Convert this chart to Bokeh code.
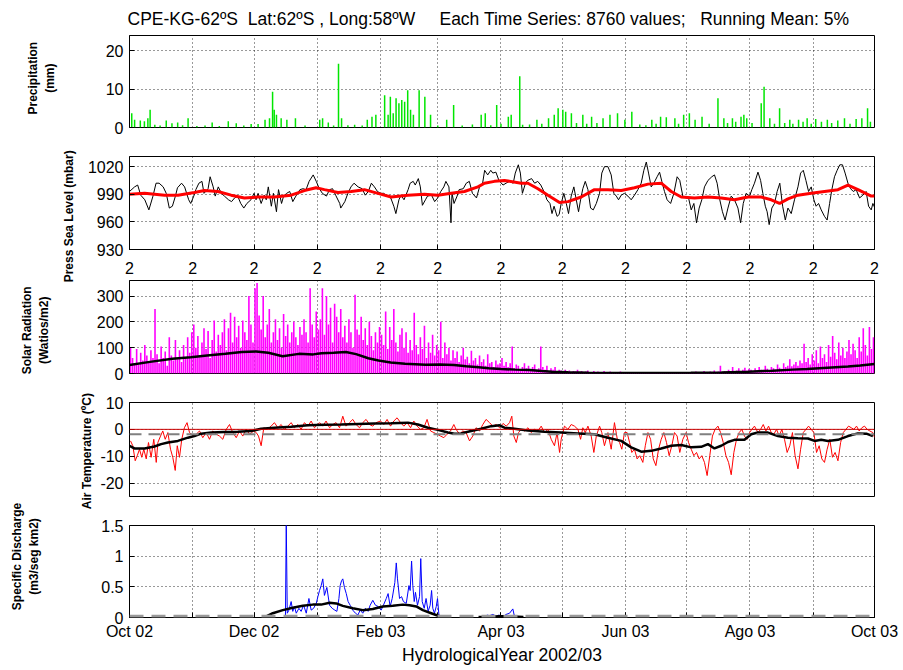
from bokeh.plotting import figure
from bokeh.layouts import column
from bokeh.models import FixedTicker, Span, Range1d
from bokeh.embed import file_html
from bokeh.resources import INLINE

FONT = "Liberation Sans"
W = 899
FRAME_LEFT = 129
FRAME_RIGHT = 25
NB = "\u00a0"
TITLE = ("CPE-KG-62ºS " + NB + "Lat:62ºS , Long:58ºW " + NB * 4 + "Each Time Series: 8760 values; "
         + NB * 2 + "Running Mean: 5%")

# x axis: days since 1 Oct 2002
MONTH_DAYS = [0, 31, 61, 92, 123, 151, 182, 212, 243, 273, 304, 335, 365]
LABEL_DAYS = [0, 61, 123, 182, 243, 304, 365]
LABELS = ["Oct 02", "Dec 02", "Feb 03", "Apr 03", "Jun 03", "Ago 03", "Oct 03"]

# ---------------- Precipitation (mm) ----------------
PR_DAYS = [1.1, 2.5, 5.3, 7.3, 9.0, 10.1, 12.4, 15, 18.0, 20.8, 23.6, 26, 28.7, 33, 37, 40.5, 44, 48.4, 52.3, 56,
           59.6, 63.0, 66.4, 68.6, 70.1, 70.9, 72.0, 74.3, 77.1, 81.3, 86, 93.2, 94.6, 97.4, 100, 102.4, 103.9, 107,
           110.3, 114, 116.5, 118.8, 120.7, 125.0, 126.7, 127.8, 129.2, 130.6, 132.0, 133.4, 134.8, 136.3, 137.7,
           139.1, 141.9, 144.7, 147.5, 151, 155.4, 158.8, 163, 168, 172.3, 174.3, 177, 179.9, 182, 185.6, 187.0,
           191.2, 192.6, 196, 199.6, 202, 205.3, 208.1, 210.0, 212.3, 213.7, 216.5, 219, 222.1, 224, 226.4, 229,
           232.0, 235.4, 239.1, 242.7, 246.1, 250, 253, 255.9, 258, 260.2, 263.0, 267.2, 269, 271.5, 274.3, 277.1,
           280.5, 284, 288.3, 291.2, 293, 295.4, 297, 299.6, 301.0, 302.4, 305, 309.5, 310.9, 313.7, 316, 318.5,
           321, 323.5, 325, 327.8, 330, 332.0, 334, 336.2, 339, 341.9, 344, 347, 350.3, 353, 356.0, 358.8, 361.6, 363]
PR_MM = [3.7, 2.0, 1.8, 1.6, 2.4, 4.6, 0.7, 0.5, 1.8, 1.1, 1.3, 0.6, 2.4, 0.4, 0.5, 1.3, 0.4, 1.6, 1.1, 0.5,
         0.9, 0.9, 2.0, 2.4, 9.3, 4.6, 3.3, 2.4, 2.0, 2.4, 0.5, 2.0, 2.4, 1.3, 0.5, 16.6, 2.4, 0.6, 0.7, 0.5,
         2.0, 2.8, 3.3, 8.4, 3.3, 8.0, 3.7, 7.6, 6.3, 7.2, 6.7, 9.7, 4.6, 3.3, 9.7, 8.0, 3.3, 0.5, 2.0, 5.9,
         0.5, 0.8, 3.3, 3.7, 0.6, 5.9, 1.0, 2.8, 3.3, 13.4, 0.7, 0.8, 2.0, 1.0, 2.4, 3.3, 5.0, 4.6, 4.1, 3.7,
         1.2, 3.3, 1.0, 2.8, 1.2, 2.4, 3.3, 3.7, 2.0, 4.1, 0.8, 0.6, 2.0, 1.0, 2.8, 2.7, 2.4, 1.0, 3.3, 3.7,
         2.0, 2.8, 1.0, 7.6, 2.4, 1.2, 2.4, 1.5, 2.8, 3.3, 2.4, 1.2, 6.3, 10.6, 2.4, 1.0, 5.0, 1.2, 2.0, 1.0,
         2.0, 1.5, 2.4, 1.0, 2.2, 1.5, 2.0, 1.2, 1.8, 2.4, 1.0, 2.2, 2.4, 5.0, 1.5]

# ---------------- Sea level pressure (mbar) ----------------
P_DAYS = [0, 2.5, 4, 5.5, 7.5, 9.5, 11.5, 13, 14.5, 16.5, 18, 19.5, 21, 22.5, 23.5, 25.5, 27, 29, 30, 31.5,
          32.5, 34, 35.5, 36.5, 38.5, 39.5, 41, 42, 43.5, 45, 46.5, 48.5, 50, 51.5, 53, 54.5, 56, 57.5, 59.5, 61,
          62, 63, 64.5, 66, 67, 68, 69.5, 70.5, 72, 73, 74.5, 75.5, 77, 78.5, 80, 81.5, 83.5, 85, 86.5, 88, 90, 91.5,
          93, 94.5, 96.5, 98, 99.5, 101, 103, 103.5, 105.5, 107, 108.5, 110, 112, 114, 115.5, 117, 118.5, 120, 121.5, 123,
          124.5, 126.5, 128, 129.5, 130.5, 132, 133, 134.5, 136.5, 137.5, 139, 140, 141.5, 142.5, 143.5, 145, 146, 148, 149.5, 151,
          152.5, 154, 155, 156.5, 157.5, 158, 159, 160.5, 161.5, 163.5, 165, 166.5, 168, 170, 171.5, 173, 174, 175.5, 177, 178, 179.5, 181,
          183, 184.5, 186, 188, 189, 190.5, 191.5, 192.5, 194, 195, 197, 198.5, 200, 201.5, 203.5, 204.5, 206, 207, 208, 209.5, 210.5, 211.5,
          212.8, 214, 215.1, 216.4, 217.7, 218.9, 220, 221, 222.1, 223.3, 224.6, 225.9, 227.2, 228.7, 230.3, 231.4, 232.7, 234.4, 236, 237.3, 238.5, 239.6, 240.9, 242.5,
          244.2, 245.8, 247.4, 249.1, 250.7, 252, 253.2, 254.3, 255.6, 256.9, 258.5, 259.7, 260.8, 262.1, 263.4, 265.1, 266.7, 268.3, 269.6, 271.1, 272.7,
          273.9, 275.2, 276.5, 277.8, 279.1, 280.4, 281.7, 283.4, 285.3, 286.6, 287.9, 289.2, 290.5, 291.8, 293.2, 294.8, 296.4, 298.1, 299.4, 300.7, 302.1, 303.8,
          304.9, 306.2, 307.9, 309.2, 310.3, 311.5, 312.4, 313.4, 314.7, 316, 317.3, 318.6, 320, 321.3, 322.6, 324.2, 325.8, 327.5, 328.8, 330.1, 331.4, 332.7, 334,
          335.3, 336.4, 337.6, 338.9, 340.5, 341.8, 343, 344.1, 345.4, 346.7, 348, 349.3, 350.6, 352, 353.3, 354.6, 356, 357.7, 359.3, 360.9, 362.1, 363.4, 364.2, 365]
P_MBAR = [993, 998, 1000, 989, 984, 973, 988, 1002, 1002, 998, 991, 975, 977, 988, 997, 1002, 998, 984, 980, 988,
          995, 1002, 1004, 991, 996, 1009, 998, 988, 998, 991, 988, 984, 982, 986, 988, 980, 975, 980, 984, 991,
          984, 991, 980, 989, 984, 998, 977, 991, 971, 995, 980, 988, 991, 993, 982, 988, 995, 996, 995, 1004, 1011, 1004,
          996, 991, 988, 995, 996, 989, 980, 975, 982, 991, 998, 1002, 998, 996, 989, 993, 1002, 998, 993, 991,
          991, 988, 986, 977, 969, 984, 989, 984, 995, 1002, 1004, 1000, 1007, 998, 978, 984, 988, 989, 982, 986,
          993, 998, 1004, 998, 959, 991, 980, 988, 995, 996, 1002, 1004, 991, 986, 998, 1002, 1016, 1011, 1016, 1013, 1014, 1005,
          1000, 1002, 1004, 1002, 1013, 1022, 1013, 991, 1002, 1005, 1007, 1002, 1004, 1000, 991, 984, 980, 969, 977, 966, 968, 980,
          991, 980, 969, 988, 998, 984, 971, 984, 996, 1004, 995, 975, 973, 980, 991, 1013, 1020, 1020, 1011, 991, 988, 984, 989, 991,
          988, 984, 989, 995, 1002, 1016, 1025, 1013, 998, 1002, 1009, 1014, 1004, 993, 984, 980, 991, 1009, 1005, 988, 986,
          986, 973, 980, 959, 975, 984, 998, 1005, 1009, 1011, 1002, 984, 971, 962, 975, 988, 984, 975, 959, 980, 991, 988,
          995, 1002, 1014, 1005, 991, 977, 971, 957, 975, 980, 993, 1002, 977, 962, 975, 969, 984, 998, 1013, 1016, 1005, 993, 998,
          984, 977, 980, 973, 966, 962, 980, 995, 1009, 1016, 1022, 1022, 1013, 1002, 996, 993, 995, 986, 989, 993, 977, 973, 980, 976]
PM_DAYS = [0, 7.4, 17.2, 23.7, 31.8, 36.7, 43.3, 49.8, 56.3, 62.9, 71.0, 79.2, 85.7, 91.4, 95.5, 102.1, 108.6, 115.1,
           121.7, 128.2, 136.4, 144.5, 151.1, 157.6, 164.1, 170.7, 173.9, 178.8, 183.7, 191.9, 195.2, 200.1, 205.0,
           210.7, 214.8, 221.3, 227.8, 234.4, 240.9, 247.4, 254.0, 260.5, 265.4, 270.3, 276.8, 283.4, 289.9, 296.4,
           303.0, 309.5, 314.4, 318.5, 322.6, 327.5, 334.0, 340.5, 347.1, 352.0, 356.9, 363.4, 365]
PM_MBAR = [990, 991, 989, 989, 992, 994, 993, 989, 986, 987, 987, 989, 994, 997, 995, 992, 993, 995, 991, 987,
           989, 990, 989, 991, 993, 998, 1002, 1004, 1005, 1002, 1002, 996, 989, 981, 982, 987, 995, 995, 994, 997,
           1001, 1002, 993, 987, 986, 987, 986, 984, 987, 987, 984, 980, 985, 989, 991, 993, 995, 1000, 995, 988, 988]

# ---------------- Solar radiation (W/m2): daily peaks, Oct..Sep ----------------
SR_OCT = [100, 60, 40, 95, 35, 80, 50, 110, 70, 45, 90, 60, 250, 75, 40, 105, 60, 85, 30, 140, 70, 50, 130, 55, 90, 45, 110, 60, 140, 80, 160]
SR_NOV = [190, 100, 145, 70, 120, 175, 95, 165, 60, 130, 205, 85, 150, 110, 160, 210, 90, 175, 235, 120, 220, 140, 185, 100, 205, 160, 130, 300, 190, 120]
SR_DEC = [330, 350, 225, 170, 300, 140, 190, 250, 120, 160, 210, 130, 175, 100, 230, 145, 190, 120, 160, 200, 140, 110, 180, 150, 210, 160, 120, 330, 190, 140, 240]
SR_JAN = [170, 210, 330, 150, 300, 190, 255, 120, 270, 220, 160, 250, 140, 185, 120, 210, 160, 100, 305, 170, 150, 220, 130, 175, 110, 200, 145, 90, 160, 120, 180]
SR_FEB = [150, 110, 240, 95, 180, 130, 250, 120, 85, 150, 175, 100, 160, 80, 130, 90, 235, 110, 75, 140, 95, 185, 60, 120, 80, 150, 70, 110]
SR_MAR = [90, 200, 60, 120, 75, 100, 50, 90, 60, 85, 45, 70, 100, 55, 65, 40, 88, 50, 60, 35, 70, 45, 55, 30, 75, 40, 45, 25, 50, 35, 40]
SR_APR = [60, 30, 45, 25, 40, 105, 20, 35, 30, 15, 25, 40, 20, 30, 15, 25, 35, 15, 20, 105, 25, 15, 30, 10, 20, 15, 25, 10, 15, 12]
SR_MAY = [10, 15, 8, 12, 5, 10, 8, 15, 6, 10, 5, 8, 12, 5, 6, 10, 4, 8, 5, 6, 10, 4, 5, 8, 3, 6, 4, 5, 8, 3, 4]
SR_JUN = [3, 5, 2, 4, 3, 6, 2, 3, 4, 2, 5, 3, 2, 4, 3, 2, 5, 3, 2, 4, 3, 2, 3, 5, 2, 3, 4, 2, 3, 4]
SR_JUL = [4, 6, 3, 5, 8, 4, 6, 3, 10, 5, 4, 8, 6, 12, 5, 8, 30, 6, 10, 8, 15, 10, 25, 8, 12, 20, 10, 15, 22, 12, 18]
SR_AUG = [15, 10, 20, 12, 25, 15, 10, 30, 18, 12, 25, 20, 15, 35, 22, 18, 40, 25, 30, 55, 28, 35, 45, 30, 50, 40, 115, 45, 60, 35, 75]
SR_SEP = [50, 90, 40, 105, 60, 75, 45, 110, 65, 145, 80, 55, 120, 70, 100, 60, 85, 130, 75, 115, 90, 60, 140, 85, 175, 110, 70, 180, 95, 140]
SM_DAYS = [0, 10, 21, 30, 38, 47, 55, 62, 68, 75, 83, 90, 94, 100, 106, 111, 117, 122, 128, 135, 145, 152, 159, 165,
           171, 176, 182, 189, 196, 202, 207, 215, 225, 250, 275, 290, 303, 315, 325, 332, 340, 346, 352, 358, 365]
SM_WM2 = [33, 45, 57, 63, 70, 76, 83, 85, 80, 67, 76, 74, 78, 80, 83, 75, 59, 50, 43, 38, 34, 35, 33, 28,
          24, 20, 17, 15, 14, 10, 7, 5, 3, 2, 3, 4, 7, 11, 15, 17, 21, 24, 27, 31, 37]

# ---------------- Air temperature (C) ----------------
T_DAYS = [0.5, 1.6, 2.8, 3.8, 4.9, 6.0, 7.0, 8.2, 9.3, 10.6, 11.9, 13.1, 13.9, 15.2, 16.3, 17.5, 18.8, 20.1, 21.2, 22.4, 23.4, 24.5, 25.6, 26.9, 28.2, 29.4, 31.4,
          32.7, 34.3, 35.9, 37.6, 39.2, 40.8, 42.5, 44.1, 45.7, 47.4, 49.0, 50.6, 52.3, 53.9, 55.5, 57.2, 58.8, 59.9, 60.9,
          62.1, 63.2, 64.5, 65.8, 67.4, 69.4, 71.0, 72.7, 74.3, 75.9, 77.6, 79.2, 80.8, 82.5, 84.1, 85.7, 87.4, 89.0, 90.6, 91.4,
          93.1, 94.7, 96.3, 98.0, 99.6, 101.2, 102.9, 104.5, 106.1, 107.8, 109.4, 111.0, 112.7, 114.3, 115.9, 117.6, 119.2, 120.8, 123.0,
          124.6, 126.2, 127.9, 129.5, 131.1, 132.8, 134.4, 136.0, 137.7, 139.3, 140.9, 142.6, 144.2, 145.8, 147.5, 149.1, 150.7,
          152.4, 154.0, 155.6, 157.3, 158.9, 160.0, 161.7, 163.3, 164.9, 166.6, 168.2, 169.8, 171.5, 173.1, 174.7, 176.4, 178.0, 179.6, 181.3,
          183.0, 184.6, 186.2, 187.3, 188.3, 189.5, 190.6, 191.9, 193.6, 195.2, 196.8, 198.4, 200.1, 201.7, 203.3, 205.0, 206.6, 208.2, 209.5, 210.7, 211.5,
          213.1, 214.8, 216.4, 218.0, 219.7, 221.0, 222.1, 223.3, 224.6, 226.2, 227.5, 228.7, 230.3, 231.4, 232.7, 234.4, 236.0, 237.6, 239.0, 240.1, 241.2, 242.5,
          243.8, 245.0, 246.1, 247.4, 248.7, 250.0, 251.5, 252.7, 254.0, 255.3, 256.6, 257.9, 259.2, 260.5, 261.8, 263.1, 264.4, 265.7, 267.0, 268.3, 269.6, 271.1, 272.7,
          273.9, 275.2, 276.5, 277.8, 279.1, 280.4, 281.7, 283.0, 284.3, 285.6, 286.9, 288.3, 289.6, 290.9, 292.2, 293.5, 294.8, 296.1, 297.4, 298.7, 300.0, 301.3, 302.6, 303.8,
          304.9, 306.2, 307.9, 309.2, 310.5, 311.8, 313.1, 314.4, 315.7, 317.0, 318.3, 319.6, 320.9, 322.2, 323.5, 324.8, 326.1, 327.5, 328.8, 330.1, 331.4, 332.7, 334.0,
          335.3, 336.6, 337.9, 339.2, 340.5, 341.8, 343.1, 344.4, 345.7, 347.1, 348.4, 349.7, 351.0, 352.3, 353.6, 354.9, 356.2, 357.5, 358.8, 360.1, 361.4, 362.7, 364.2, 365]
T_DEGC = [-4.3, -6.1, -11.7, -9.8, -7.4, -10.4, -7.4, -11.0, -4.9, -10.4, -3.7, -12.3, -4.9, -2.5, -0.6, -3.7, -1.2, -7.4, -10.4, -15.3, -6.1, -10.4, -3.7, 0.6, 2.5, -1.2, -2.5,
          -1.8, -0.6, -3.1, -1.2, -3.7, -0.6, -1.8, -2.5, -3.7, 0, 1.8, -1.2, -3.1, -0.6, -2.5, 0, -1.8, -1.2, -0.6,
          -1.2, -2.5, -6.1, 0.6, 0, 1.2, 2.5, 0.6, 1.8, 0, 1.2, 2.5, 0.6, 1.8, 0, 2.5, 1.2, 3.1, 0.6, 1.2,
          2.5, 1.2, 3.1, 0.6, 1.8, 2.5, 0.6, 4.9, 1.2, 2.5, 3.7, 1.8, 0.6, 2.5, 3.7, 1.8, 1.2, 2.5, 3.1,
          1.8, 3.7, 1.2, 3.1, 4.3, 2.5, 1.2, 2.5, 0.6, 3.1, 1.2, 0, 0.6, 3.7, -0.6, -1.2, -1.8,
          -2.5, -3.1, -1.8, -0.6, 1.8, 0, -1.8, -0.6, -1.2, -4.3, -2.5, 0.6, -0.6, 1.8, 3.7, 2.5, 1.2, 1.8, 0.6,
          2.2, 1.2, 2.5, 4.9, -2.5, -4.9, -1.2, 0, -0.6, 0.6, -1.2, 0, -0.6, 1.2, -1.2, 0, -3.7, -6.1, -1.2, -8.6, -3.7,
          1.2, 0, 1.8, 1.2, 0, -3.7, 0.6, -1.2, 1.2, -2.5, -8.6, -2.5, 1.2, -1.2, -6.1, -1.2, -7.4, 2.5, -3.7, -4.9, -7.4, -1.2,
          -1.2, -4.9, -8.6, -7.4, -11.0, -9.8, -12.3, -6.1, -1.2, -3.7, -11.0, -13.5, -7.4, -3.7, -1.2, -4.9, -9.8, -6.1, -1.2, -2.5, -8.6, -3.7, -1.2,
          -4.9, -7.4, -9.8, -8.6, -11.0, -9.8, -12.3, -17.2, -9.8, -2.5, 0, 1.2, -1.2, -4.9, -9.8, -12.3, -16.9, -8.6, -3.7, -1.2, 0, -2.5, -3.7, -1.2,
          0, 1.2, -1.2, 0, 1.8, -0.6, 1.2, -1.2, -1.8, 0, -2.5, 0, -3.7, -8.6, -6.1, -1.2, -9.8, -14.7, -7.4, -1.2, 0, 1.2, 0,
          -1.2, -8.6, -6.1, -11.0, -12.3, -7.4, -3.7, -10.4, -8.6, -11.7, -4.9, -1.2, 0, 1.2, 0.6, 0, 1.2, -0.6, 0.6, 1.2, 0, -0.6, -1.2, -3.0]
TM_DAYS = [0, 2.4, 7.4, 12.2, 15.5, 18.8, 23.7, 28.6, 31.8, 35.1, 40.0, 46.5, 53.1, 59.6, 64.5, 71.0, 79.2, 87.4, 95.5, 103.7,
           111.9, 120.0, 128.2, 136.4, 141.3, 146.2, 151.1, 156.0, 159.2, 162.5, 167.4, 172.3, 177.2, 181.3, 183.7, 188.6,
           195.2, 203.3, 211.5, 219.7, 227.8, 234.4, 240.9, 245.8, 250.7, 255.6, 260.5, 265.4, 270.3, 275.2, 280.1, 283.4,
           286.6, 289.9, 293.2, 296.4, 301.3, 304.6, 307.9, 312.8, 317.7, 322.6, 327.5, 332.4, 335.6, 338.9, 342.2, 347.1,
           352.0, 356.9, 361.0, 364.2]
TM_DEGC = [-6.1, -7.1, -7.1, -6.4, -5.5, -4.9, -4.3, -3.1, -2.5, -1.6, -1.2, -1.0, -0.9, -0.6, 0.2, 0.6, 1.0, 1.5, 1.7, 1.8,
           2.0, 2.2, 2.3, 2.5, 1.8, 0.6, -0.2, -1.2, -1.6, -1.5, -0.6, 0.2, 1.2, 1.5, 0.6, 0.2,
           -0.4, -0.9, -1.2, -1.5, -1.8, -3.1, -4.3, -6.7, -8.3, -8.0, -7.1, -6.1, -5.8, -6.7, -6.5, -5.5,
           -7.1, -6.1, -4.7, -3.9, -3.9, -1.8, -1.2, -1.2, -2.5, -3.1, -3.3, -3.4, -4.3, -3.9, -4.3, -3.9,
           -2.5, -1.5, -1.6, -2.5]
T_MEAN_LEVEL = -1.8

# ---------------- Specific discharge (m3/seg km2) ----------------
Q_DAYS = [76.4, 76.8, 77.3, 78.1, 79.2, 80.0, 80.8, 81.7, 83.0, 84.1, 85.3, 86.6, 87.9, 89.0, 90.2, 91.5, 92.3, 93.1, 93.9, 94.7,
          95.5, 96.7, 98.0, 99.3, 100.6, 101.6, 102.6, 103.2, 103.9, 104.5, 105.3, 106.2, 107.1, 108.1, 109.4, 110.7, 111.9, 113.0, 114.3, 115.6,
          116.9, 117.9, 119.2, 120.5, 121.8, 123.3, 124.4, 125.8, 126.7, 127.7, 128.7, 130.0, 130.7, 131.3, 132.3, 133.3, 134.2, 135.6, 136.9, 137.5,
          138.2, 138.8, 139.5, 140.1, 141.1, 142.1, 142.7, 143.4, 144.4, 145.3, 146.3, 147.3, 148.0, 148.6, 149.4, 150.3, 150.9, 151.6, 152.2]
Q_VAL = [0, 1.55, 0.07, 0.12, 0.26, 0.10, 0.18, 0.07, 0.15, 0.10, 0.20, 0.07, 0.31, 0.12, 0.15, 0.23, 0.34, 0.44, 0.52, 0.63,
         0.36, 0.49, 0.20, 0.15, 0.12, 0.10, 0.31, 0.52, 0.60, 0.63, 0.49, 0.39, 0.26, 0.20, 0.12, 0.07, 0.04, 0.12, 0.07, 0.15,
         0.10, 0.20, 0.28, 0.20, 0.18, 0.12, 0.20, 0.31, 0.39, 0.18, 0.31, 0.57, 0.89, 0.63, 0.31, 0.34, 0.26, 0.23, 0.52, 0.44,
         0.92, 0.52, 0.26, 0.41, 0.20, 0.34, 0.96, 0.26, 0.15, 0.31, 0.10, 0.20, 0.44, 0.15, 0.07, 0.18, 0.31, 0.04, 0]
Q2_DAYS = [174, 175.1, 176.4, 178, 179.7, 181, 183, 184.5, 186.2, 187.8, 188.6, 190]
Q2_VAL = [0, 0.04, 0.03, 0.05, 0.02, 0.04, 0.01, 0.05, 0.07, 0.14, 0.02, 0]
QM_DAYS = [67.0, 70.2, 75.1, 80.0, 84.9, 89.8, 93.9, 98.0, 101.3, 104.5, 109.4, 114.3, 119.2, 124.1, 129.0, 133.9, 137.2, 140.5, 143.7, 147.8, 151.9, 156.8]
QM_VAL = [0.02, 0.07, 0.12, 0.16, 0.19, 0.21, 0.21, 0.24, 0.23, 0.19, 0.15, 0.12, 0.14, 0.18, 0.19, 0.21, 0.20, 0.18, 0.12, 0.07, 0.02, 0.0]
QM2_DAYS = [171, 176, 181, 186, 193]
QM2_VAL = [0.01, 0.01, 0.02, 0.02, 0.01]
Q_MEAN_LEVEL = 0.02


def panel(height, top, bottom, yr, yticks, ylabels, axis_label, label_standoff, margin, x_axis):
    p = figure(width=W, height=height, x_range=Range1d(0, 365), y_range=Range1d(*yr),
               output_backend="svg", toolbar_location=None,
               x_axis_location="below" if x_axis else None,
               min_border_left=FRAME_LEFT, min_border_right=FRAME_RIGHT,
               min_border_top=top, min_border_bottom=bottom)
    p.margin = margin
    p.title.visible = False
    p.border_fill_color = None
    p.background_fill_color = "white"
    p.outline_line_color = "black"
    p.outline_line_alpha = 1.0
    p.outline_line_width = 1
    ya = p.yaxis[0]
    ya.ticker = FixedTicker(ticks=yticks)
    ya.major_label_overrides = dict(zip(yticks, ylabels))
    ya.major_label_text_font = FONT
    ya.major_label_text_font_size = "16px"
    ya.major_label_text_color = "black"
    ya.major_label_standoff = 6
    ya.major_tick_in = 5
    ya.major_tick_out = 0
    ya.minor_tick_in = 0
    ya.minor_tick_out = 0
    ya.axis_line_color = "black"
    ya.axis_label = axis_label
    ya.axis_label_text_font = FONT
    ya.axis_label_text_font_size = "12px"
    ya.axis_label_text_font_style = "bold"
    ya.axis_label_text_color = "black"
    ya.axis_label_standoff = label_standoff
    if x_axis:
        xa = p.xaxis[0]
        xa.ticker = FixedTicker(ticks=MONTH_DAYS)
        xa.major_tick_in = 5
        xa.major_tick_out = 0
        xa.minor_tick_in = 0
        xa.minor_tick_out = 0
        xa.axis_line_color = "black"
        xa.major_label_text_font = FONT
        xa.major_label_text_font_size = "16px"
        xa.major_label_text_color = "black"
    p.xgrid.ticker = FixedTicker(ticks=MONTH_DAYS)
    p.ygrid.ticker = FixedTicker(ticks=yticks)
    for g in (p.xgrid[0], p.ygrid[0]):
        g.grid_line_color = "black"
        g.grid_line_dash = "1 3"
        g.grid_line_alpha = 0.8
        g.grid_line_width = 1
    return p


# Panel 1: precipitation
p1 = panel(141, 33, 14, (0, 24), [0, 10, 20], ["0", "10", "20"],
           NB * 2 + "Precipitation\n" + NB * 2 + "(mm)", 46, (0, 0, 0, 0), False)
p1.title.visible = True
p1.title.text = TITLE
p1.title.text_font = FONT
p1.title.text_font_size = "17.5px"
p1.title.text_font_style = "normal"
p1.title.text_color = "black"
p1.title.align = "left"
p1.title.offset = -2
p1.title.standoff = 13
p1.segment(x0=PR_DAYS, y0=0, x1=PR_DAYS, y1=PR_MM, line_color="#00e600", line_width=1.5)

# Panel 2: pressure (transparent canvas overlaps its neighbours so the long label is not clipped)
p2 = panel(168, 33, 42, (930, 1031), [930, 960, 990, 1020], ["930", "960", "990", "1020"],
           "Press Sea Level (mbar)" + NB * 8, 9, (-18, 0, -19, 0), True)
x2 = p2.xaxis[0]
x2.major_label_standoff = 12
x2.major_label_overrides = {d: "2" for d in MONTH_DAYS}
p2.line(P_DAYS, P_MBAR, line_color="black", line_width=1)
p2.line(PM_DAYS, PM_MBAR, line_color="#ff0000", line_width=3)

# Panel 3: solar radiation
SR_ALL = SR_OCT + SR_NOV + SR_DEC + SR_JAN + SR_FEB + SR_MAR + SR_APR + SR_MAY + SR_JUN + SR_JUL + SR_AUG + SR_SEP
SR_DAYS = [d + 0.5 for d in range(len(SR_ALL))]
p3 = panel(124, 8, 23, (0, 360), [0, 100, 200, 300], ["0", "100", "200", "300"],
           "Solar Radiation" + NB * 2 + "\n(Watios/m2)" + NB * 2, 43, (0, 0, 0, 0), False)
p3.segment(x0=SR_DAYS, y0=0, x1=SR_DAYS, y1=SR_ALL, line_color="#ff00ff", line_width=1.6)
p3.line(SM_DAYS, SM_WM2, line_color="black", line_width=2.5)

# Panel 4: air temperature
p4 = panel(150, 23, 33, (-25, 10), [-20, -10, 0, 10], ["-20", "-10", "0", "10"],
           "Air Temperature  (ºC)", 3, (-17, 0, -10, 0), False)
p4.line(T_DAYS, T_DEGC, line_color="#ff0000", line_width=1)
p4.add_layout(Span(location=0, dimension="width", line_color="#cc0000", line_width=1))
p4.add_layout(Span(location=T_MEAN_LEVEL, dimension="width", line_color="#808080", line_width=2, line_dash="12 7"))
p4.line(TM_DAYS, TM_DEGC, line_color="black", line_width=2.5)

# Panel 5: specific discharge
p5 = panel(173, 31, 49, (0, 1.5), [0, 0.5, 1, 1.5], ["0", "0.5", "1", "1.5"],
           NB * 9 + "Specific Discharge\n" + NB * 9 + "(m3/seg km2)", 57, (-25, 0, 0, 0), True)
x5 = p5.xaxis[0]
x5.ticker = FixedTicker(ticks=LABEL_DAYS, minor_ticks=MONTH_DAYS)
x5.minor_tick_in = 5
x5.minor_tick_out = 0
x5.major_label_overrides = dict(zip(LABEL_DAYS, LABELS))
x5.major_label_standoff = 5
x5.axis_label = "HydrologicalYear 2002/03"
x5.axis_label_text_font = FONT
x5.axis_label_text_font_size = "17.5px"
x5.axis_label_text_font_style = "normal"
x5.axis_label_text_color = "black"
x5.axis_label_standoff = 2
p5.line(Q_DAYS, Q_VAL, line_color="#0000ff", line_width=1)
p5.line(Q2_DAYS, Q2_VAL, line_color="#0000ff", line_width=1)
p5.add_layout(Span(location=Q_MEAN_LEVEL, dimension="width", line_color="#999999", line_width=3, line_dash="14 8"))
p5.line(QM_DAYS, QM_VAL, line_color="black", line_width=2.5)
p5.line(QM2_DAYS, QM2_VAL, line_color="black", line_width=2.5)

layout = column(p1, p2, p3, p4, p5, spacing=0)
open("out.html", "w").write(file_html(layout, INLINE))
